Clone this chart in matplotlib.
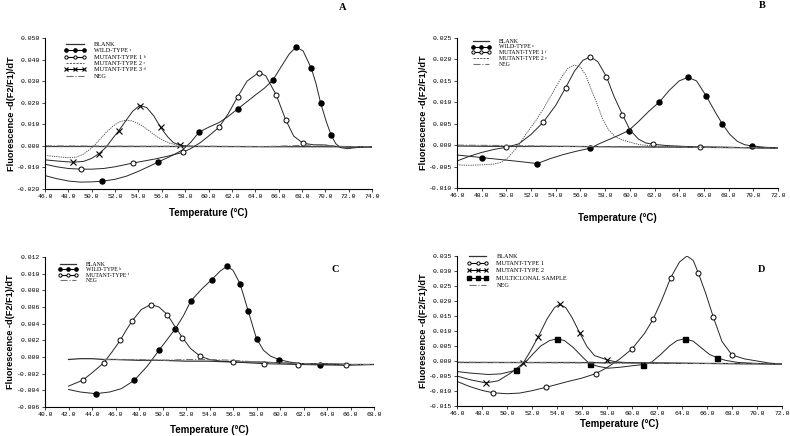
import matplotlib
matplotlib.use("Agg")
import matplotlib.pyplot as plt
from matplotlib.lines import Line2D

W, H = 790, 436
SERIF = ["Liberation Serif", "DejaVu Serif"]
MONO = "Liberation Mono"
SANS = "Liberation Sans"

# ---------------- panel A ----------------
a_blank_t = [46, 50, 55, 60, 65, 70, 74]
a_blank_y = [-0.0003, -0.0003, -0.0003, -0.0003, -0.0004, -0.0004, -0.0005]
a_neg_t = [46, 50, 55, 60, 65, 68, 69.5, 71, 74]
a_neg_y = [0.0000, -0.0001, -0.0002, -0.0002, -0.0003, 0.0002, 0.0005, -0.0002, -0.0005]

a_wt_t = [46, 47, 48, 49, 50, 50.9, 52, 53, 54, 55, 55.7, 56.5, 57.2, 57.8, 58.5, 59.2,
          60, 60.9, 61.6, 62.5, 63.3, 64, 64.8, 65.5, 66.2, 66.9, 67.5, 68.1, 68.8, 69.2,
          69.6, 70.1, 70.5, 70.9, 71.3, 71.9, 72.5, 73.2, 74]
a_wt_y = [-0.0138, -0.0152, -0.0163, -0.0168, -0.0167, -0.0164, -0.0155, -0.0140, -0.0118,
          -0.0093, -0.0074, -0.0055, -0.0036, -0.0018, 0.0018, 0.0064, 0.0086, 0.0108,
          0.0133, 0.0171, 0.0205, 0.0235, 0.0268, 0.0304, 0.0365, 0.0425, 0.0458, 0.0440,
          0.0360, 0.0290, 0.0199, 0.0110, 0.0050, 0.0010, -0.0008, -0.0013, -0.0009,
          -0.0006, -0.0005]
a_wt_mk_t = [50.9, 55.7, 59.2, 62.5, 65.5, 67.5, 68.8, 69.6, 70.5]
a_wt_mk_y = [-0.0164, -0.0074, 0.0064, 0.0171, 0.0304, 0.0458, 0.0360, 0.0199, 0.0050]

a_m1_t = [46, 47, 48, 49.1, 50, 51, 52, 53.5, 54.5, 55.5, 56.5, 57.8, 58.5, 59.3, 60, 60.9,
          61.7, 62.5, 63.3, 64.3, 64.9, 65.8, 66.6, 67.3, 68.1, 69, 70, 71, 72, 74]
a_m1_y = [-0.0085, -0.0097, -0.0105, -0.0108, -0.0108, -0.0105, -0.0097, -0.0080, -0.0070,
          -0.0060, -0.0048, -0.0030, -0.0012, 0.0015, 0.0045, 0.0086, 0.0150, 0.0228,
          0.0300, 0.0340, 0.0325, 0.0236, 0.0122, 0.0045, 0.0012, 0.0005, 0.0004,
          -0.0003, -0.0006, -0.0005]
a_m1_mk_t = [49.1, 53.5, 57.8, 60.9, 62.5, 64.3, 65.8, 66.6, 68.1]
a_m1_mk_y = [-0.0108, -0.0080, -0.0030, 0.0086, 0.0228, 0.0340, 0.0236, 0.0122, 0.0012]

a_m2_t = [46, 47, 48, 48.7, 49.3, 49.8, 50.2, 50.7, 51.3, 51.9, 52.4, 52.9, 53.4, 53.9,
          54.4, 54.9, 55.5, 56.1, 56.7, 57.3, 58, 59]
a_m2_y = [-0.0044, -0.0050, -0.0055, -0.0052, -0.0038, -0.0018, 0.0000, 0.0030, 0.0066,
          0.0095, 0.0112, 0.0118, 0.0116, 0.0106, 0.0090, 0.0070, 0.0046, 0.0026, 0.0012,
          0.0004, 0.0001, -0.0002]

a_m3_t = [46, 47, 48.4, 49.3, 50.0, 50.6, 51.2, 51.8, 52.3, 52.9, 53.5, 54.1, 54.7, 55.3,
          55.9, 56.5, 57.0, 57.6, 58.2, 59]
a_m3_y = [-0.0065, -0.0070, -0.0076, -0.0072, -0.0058, -0.0037, -0.0008, 0.0035, 0.0069,
          0.0115, 0.0160, 0.0187, 0.0178, 0.0140, 0.0086, 0.0042, 0.0015, 0.0003,
          -0.0002, -0.0003]
a_m3_mk_t = [48.4, 50.6, 52.3, 54.1, 55.9, 57.6]
a_m3_mk_y = [-0.0076, -0.0037, 0.0069, 0.0187, 0.0086, 0.0003]

# ---------------- panel B ----------------
b_blank_t = [46, 50, 55, 60, 65, 70, 72]
b_blank_y = [-0.0002, -0.0003, -0.0003, -0.0004, -0.0005, -0.0006, -0.0007]
b_neg_t = [46, 50, 55, 60, 65, 70, 72]
b_neg_y = [0.0000, -0.0001, -0.0003, -0.0004, -0.0005, -0.0006, -0.0007]

b_wt_t = [46, 47, 48, 49, 50, 51, 52.5, 53.5, 54.6, 55.7, 56.8, 57.5, 58.3, 59.1, 59.9,
          60.7, 61.5, 62.4, 63.2, 64.0, 64.7, 65.4, 66.2, 66.9, 67.5, 68.1, 68.7, 69.3,
          69.9, 71, 72]
b_wt_y = [-0.0023, -0.0026, -0.0029, -0.0032, -0.0035, -0.0038, -0.0043, -0.0032, -0.0022,
          -0.0014, -0.0007, 0.0003, 0.0013, 0.0023, 0.0034, 0.0055, 0.0078, 0.0101,
          0.0128, 0.0150, 0.0158, 0.0150, 0.0114, 0.0078, 0.0049, 0.0025, 0.0009,
          0.0001, -0.0002, -0.0005, -0.0006]
b_wt_mk_t = [48.0, 52.5, 56.8, 59.9, 62.4, 64.7, 66.2, 67.5, 69.9]
b_wt_mk_y = [-0.0029, -0.0043, -0.0007, 0.0034, 0.0101, 0.0158, 0.0114, 0.0049, -0.0002]

b_m1_t = [46, 47, 48, 49, 50, 51, 52, 53, 54, 54.8, 55.5, 56.2, 56.8, 57.4, 58.1, 58.7,
          59.4, 60.0, 60.7, 61.3, 61.9, 63, 64.5, 65.7, 68, 70, 72]
b_m1_y = [-0.0037, -0.0026, -0.0017, -0.0010, -0.0005, 0.0003, 0.0025, 0.0054, 0.0093,
          0.0134, 0.0172, 0.0198, 0.0206, 0.0195, 0.0160, 0.0115, 0.0071, 0.0036, 0.0014,
          0.0005, 0.0002, -0.0001, -0.0003, -0.0004, -0.0005, -0.0006, -0.0007]
b_m1_mk_t = [50.0, 53.0, 54.8, 56.8, 58.1, 59.4, 61.9, 65.7]
b_m1_mk_y = [-0.0005, 0.0054, 0.0134, 0.0206, 0.0160, 0.0071, 0.0002, -0.0004]

b_m2_t = [46, 47, 48, 49, 49.6, 50.1, 50.6, 51.0, 51.5, 52.0, 52.5, 53.0, 53.5, 54.0, 54.5,
          55.0, 55.5, 56.0, 56.4, 56.8, 57.3, 57.8, 58.3, 58.8, 59.4, 60.0, 60.8, 62, 64,
          68, 72]
b_m2_y = [-0.0046, -0.0047, -0.0046, -0.0044, -0.0040, -0.0030, -0.0014, 0.0000, 0.0022,
          0.0042, 0.0062, 0.0085, 0.0110, 0.0135, 0.0160, 0.0180, 0.0187, 0.0182, 0.0165,
          0.0135, 0.0100, 0.0060, 0.0035, 0.0020, 0.0012, 0.0007, 0.0001, -0.0002,
          -0.0004, -0.0005, -0.0007]

# ---------------- panel C ----------------
c_blank_t = [42, 43, 44, 45, 46, 48, 50, 52, 54, 56, 58, 60, 62, 64, 66, 68]
c_blank_y = [-0.0003, -0.0002, -0.0002, -0.0003, -0.0003, -0.0004, -0.0004, -0.0005,
             -0.0005, -0.0006, -0.0006, -0.0007, -0.0008, -0.0008, -0.0009, -0.0009]
c_neg_t = [45, 48, 50, 52, 54, 56, 58, 60, 62, 64, 66, 68]
c_neg_y = [-0.0003, -0.0003, -0.0004, -0.0003, -0.0003, -0.0004, -0.0006, -0.0007,
           -0.0008, -0.0008, -0.0009, -0.0009]

c_wt_t = [42, 43, 44.3, 45.5, 46.5, 47.6, 48.7, 49.7, 50.4, 51.1, 51.8, 52.4, 53.3, 54.2,
          54.9, 55.5, 56.0, 56.6, 57.3, 58.0, 58.6, 59.2, 59.9, 60.8, 61.8, 63.4, 65, 68]
c_wt_y = [-0.0039, -0.0042, -0.0044, -0.0042, -0.0038, -0.0028, -0.0011, 0.0008, 0.0021,
          0.0034, 0.0050, 0.0067, 0.0081, 0.0093, 0.0103, 0.0109, 0.0104, 0.0088, 0.0055,
          0.0022, 0.0008, 0.0001, -0.0003, -0.0006, -0.0008, -0.0009, -0.0009, -0.0009]
c_wt_mk_t = [44.3, 47.6, 49.7, 51.1, 52.4, 54.2, 55.5, 56.6, 57.3, 58.0, 59.9, 63.4]
c_wt_mk_y = [-0.0044, -0.0028, 0.0008, 0.0034, 0.0067, 0.0093, 0.0109, 0.0088, 0.0055,
             0.0022, -0.0003, -0.0009]

c_mt_t = [42, 42.5, 43.2, 44.0, 45.0, 45.7, 46.4, 46.9, 47.4, 48.2, 49.0, 49.7, 50.4, 51.0,
          51.7, 52.4, 53.2, 54.0, 55.0, 56.0, 58.6, 61.5, 65.6, 68]
c_mt_y = [-0.0035, -0.0032, -0.0028, -0.0019, -0.0007, 0.0006, 0.0020, 0.0032, 0.0043,
          0.0057, 0.0063, 0.0060, 0.0051, 0.0038, 0.0023, 0.0010, 0.0001, -0.0003,
          -0.0005, -0.0006, -0.0008, -0.0009, -0.0010, -0.0009]
c_mt_mk_t = [43.2, 45.0, 46.4, 47.4, 49.0, 50.4, 51.7, 53.2, 56.0, 58.6, 61.5, 65.6]
c_mt_mk_y = [-0.0028, -0.0007, 0.0020, 0.0043, 0.0063, 0.0051, 0.0023, 0.0001, -0.0006,
             -0.0008, -0.0009, -0.0010]

# ---------------- panel D ----------------
d_blank_t = [46, 50, 55, 60, 65, 70, 72]
d_blank_y = [-0.0005, -0.0005, -0.0005, -0.0006, -0.0008, -0.0009, -0.0010]
d_neg_t = [46, 50, 55, 60, 65, 70, 72]
d_neg_y = [-0.0004, -0.0005, -0.0006, -0.0007, -0.0008, -0.0009, -0.0010]

d_m1_t = [46, 47, 48, 48.9, 50, 51, 52, 53.1, 54, 55, 56, 57.1, 58, 59, 60, 61, 61.7, 62.4,
          63.1, 63.8, 64.4, 64.9, 65.3, 65.9, 66.5, 67.2, 68, 69, 70, 71, 72]
d_m1_y = [-0.0068, -0.0085, -0.0098, -0.0106, -0.0109, -0.0107, -0.0099, -0.0088, -0.0078,
          -0.0067, -0.0057, -0.0042, -0.0022, 0.0006, 0.0040, 0.0092, 0.0140, 0.0205,
          0.0278, 0.0330, 0.0350, 0.0335, 0.0294, 0.0225, 0.0147, 0.0065, 0.0020, 0.0007,
          0.0000, -0.0007, -0.0010]
d_m1_mk_t = [48.9, 53.1, 57.1, 60.0, 61.7, 63.1, 65.3, 66.5, 68.0]
d_m1_mk_y = [-0.0106, -0.0088, -0.0042, 0.0040, 0.0140, 0.0278, 0.0294, 0.0147, 0.0020]

d_m2_t = [46, 47, 48.3, 49.3, 50.3, 51.3, 51.9, 52.5, 53.2, 53.8, 54.2, 54.7, 55.2, 55.8,
          56.4, 57.0, 58.0, 58.7, 60, 62, 65, 72]
d_m2_y = [-0.0050, -0.0062, -0.0073, -0.0066, -0.0040, -0.0007, 0.0035, 0.0081, 0.0140,
          0.0178, 0.0189, 0.0178, 0.0145, 0.0095, 0.0048, 0.0018, 0.0004, -0.0003,
          -0.0006, -0.0007, -0.0008, -0.0010]
d_m2_mk_t = [48.3, 51.3, 52.5, 54.2, 55.8, 58.0]
d_m2_mk_y = [-0.0073, -0.0007, 0.0081, 0.0189, 0.0095, 0.0004]

d_mc_t = [46, 47, 48.5, 49.5, 50.7, 51.4, 52.0, 52.7, 53.4, 54.0, 54.6, 55.3, 56.0, 56.6,
          57.3, 58.1, 59.0, 60.0, 60.9, 61.6, 62.3, 63.0, 63.6, 64.2, 64.9, 65.6, 66.2,
          66.8, 67.5, 68.5, 70, 72]
d_mc_y = [-0.0035, -0.0040, -0.0045, -0.0043, -0.0031, -0.0008, 0.0020, 0.0050, 0.0068,
          0.0074, 0.0068, 0.0045, 0.0015, -0.0009, -0.0018, -0.0024, -0.0021, -0.0016,
          -0.0012, -0.0003, 0.0022, 0.0050, 0.0068, 0.0074, 0.0066, 0.0042, 0.0022,
          0.0011, 0.0002, -0.0005, -0.0008, -0.0010]
d_mc_mk_t = [50.7, 54.0, 56.6, 60.9, 64.2, 66.8]
d_mc_mk_y = [-0.0031, 0.0074, -0.0009, -0.0012, 0.0074, 0.0011]


LW = 0.7
MS = 3.6


def rect(l, t, r, b):
    return [l / W, 1 - b / H, (r - l) / W, (b - t) / H]


def blank(ax, t, y):
    ax.plot(t, y, color="0.2", lw=0.9)
    return Line2D([], [], color="0.2", lw=0.9)


def neg(ax, t, y):
    ax.plot(t, y, color="0.45", lw=0.8, ls="-.")
    return Line2D([], [], color="0.45", lw=0.8, ls="-.")


def dashed(ax, t, y):
    ax.plot(t, y, color="0.25", lw=0.6, ls=(0, (1.5, 1.2)))
    return Line2D([], [], color="0.25", lw=0.6, ls=(0, (2.5, 1.5)))


def marked(ax, t, y, mt, my, style):
    ax.plot(t, y, color="0.15", lw=LW)
    kw = dict(color="black", ms=MS, lw=0)
    if style == "filled":
        kw.update(marker="o", mfc="black", mec="black")
    elif style == "open":
        kw.update(marker="o", mfc="white", mec="black", mew=0.7)
    elif style == "x":
        kw.update(marker="x", mec="black", mew=0.8, ms=MS + 0.8)
    else:
        kw.update(marker="s", mfc="black", mec="black")
    ax.plot(mt, my, **kw)
    h = dict(kw)
    h["lw"] = 0.8
    return Line2D([], [], **h)


def setup(ax, xlim, xticks, ylim, yticks, xlab_y, leg_h, leg_l, leg_anchor, leg_size, leg_sp):
    ax.set_xlim(*xlim)
    ax.set_ylim(*ylim)
    ax.set_xticks(xticks)
    ax.set_yticks(yticks)
    ax.set_xticklabels([f"{v:.1f}" for v in xticks])
    ax.set_yticklabels([f"{v:.3f}" for v in yticks])
    for lab in ax.get_xticklabels() + ax.get_yticklabels():
        lab.set_family(MONO)
    ax.tick_params(labelsize=4.6, length=2, width=0.5, pad=1.5)
    ax.spines[["top", "right"]].set_visible(False)
    ax.spines[["left", "bottom"]].set_linewidth(0.8)
    ax.set_xlabel("Temperature (\u00b0C)", fontfamily=SANS, fontweight="bold", fontsize=7)
    ax.set_ylabel("Fluorescence -d(F2/F1)/dT", fontfamily=SANS, fontweight="bold", fontsize=6.6)
    ax.xaxis.set_label_coords(0.5, xlab_y)
    ax.yaxis.set_label_coords(-0.09, 0.5)
    ax.legend(leg_h, leg_l, loc="upper left", bbox_to_anchor=leg_anchor, frameon=False,
              numpoints=3, markerscale=0.65, handlelength=3.4, handleheight=0.5,
              handletextpad=1.3, labelspacing=leg_sp, borderaxespad=0, borderpad=0,
              prop={"family": SERIF, "size": leg_size})


fig = plt.figure(figsize=(W / 100, H / 100), dpi=100)

# A
ax = fig.add_axes(rect(45, 38, 372, 189))
h = [blank(ax, a_blank_t, a_blank_y),
     marked(ax, a_wt_t, a_wt_y, a_wt_mk_t, a_wt_mk_y, "filled"),
     marked(ax, a_m1_t, a_m1_y, a_m1_mk_t, a_m1_mk_y, "open"),
     dashed(ax, a_m2_t, a_m2_y),
     marked(ax, a_m3_t, a_m3_y, a_m3_mk_t, a_m3_mk_y, "x"),
     neg(ax, a_neg_t, a_neg_y)]
setup(ax, (46, 74), list(range(46, 75, 2)), (-0.020, 0.050),
      [-0.02, -0.01, 0.0, 0.01, 0.02, 0.03, 0.04, 0.05], -0.125, h,
      ["BLANK", "WILD-TYPE \u1d43", "MUTANT-TYPE 1 \u1d47", "MUTANT-TYPE 2 \u1d9c",
       "MUTANT-TYPE 3 \u1d48", "NEG"], (0.06, 0.975), 4.5, 0.22)

# B
ax = fig.add_axes(rect(457, 38, 778, 188))
h = [blank(ax, b_blank_t, b_blank_y),
     marked(ax, b_wt_t, b_wt_y, b_wt_mk_t, b_wt_mk_y, "filled"),
     marked(ax, b_m1_t, b_m1_y, b_m1_mk_t, b_m1_mk_y, "open"),
     dashed(ax, b_m2_t, b_m2_y),
     neg(ax, b_neg_t, b_neg_y)]
setup(ax, (46, 72), list(range(46, 73, 2)), (-0.010, 0.025),
      [-0.01, -0.005, 0.0, 0.005, 0.01, 0.015, 0.02, 0.025], -0.165, h,
      ["BLANK", "WILD-TYPE \u1d49", "MUTANT-TYPE 1 \u1da0", "MUTANT-TYPE 2 \u1d4d", "NEG"],
      (0.044, 0.995), 4.2, 0.12)

# C
ax = fig.add_axes(rect(45, 257, 374, 407))
h = [blank(ax, c_blank_t, c_blank_y),
     marked(ax, c_wt_t, c_wt_y, c_wt_mk_t, c_wt_mk_y, "filled"),
     marked(ax, c_mt_t, c_mt_y, c_mt_mk_t, c_mt_mk_y, "open"),
     neg(ax, c_neg_t, c_neg_y)]
setup(ax, (40, 68), list(range(40, 69, 2)), (-0.006, 0.012),
      [-0.006, -0.004, -0.002, 0.0, 0.002, 0.004, 0.006, 0.008, 0.010, 0.012], -0.12, h,
      ["BLANK", "WILD-TYPE \u02b0", "MUTANT-TYPE \u2071", "NEG"], (0.04, 0.97), 4.2, 0.1)

# D
ax = fig.add_axes(rect(457, 256, 782, 406))
h = [blank(ax, d_blank_t, d_blank_y),
     marked(ax, d_m1_t, d_m1_y, d_m1_mk_t, d_m1_mk_y, "open"),
     marked(ax, d_m2_t, d_m2_y, d_m2_mk_t, d_m2_mk_y, "x"),
     marked(ax, d_mc_t, d_mc_y, d_mc_mk_t, d_mc_mk_y, "square"),
     neg(ax, d_neg_t, d_neg_y)]
setup(ax, (46, 72), list(range(46, 73, 2)), (-0.015, 0.035),
      [-0.015, -0.01, -0.005, 0.0, 0.005, 0.01, 0.015, 0.02, 0.025, 0.03, 0.035], -0.085, h,
      ["BLANK", "MUTANT-TYPE 1", "MUTANT-TYPE 2", "MULTICLONAL SAMPLE", "NEG"],
      (0.031, 1.013), 4.5, 0.35)

for letter, x, y in [("A", 343, 8), ("B", 762, 5), ("C", 335, 270), ("D", 762, 270)]:
    fig.text(x / W, 1 - y / H, letter, ha="center", va="center", family=SERIF,
             fontweight="bold", fontsize=7.5)

fig.savefig("out.png", dpi=100, facecolor="white")
